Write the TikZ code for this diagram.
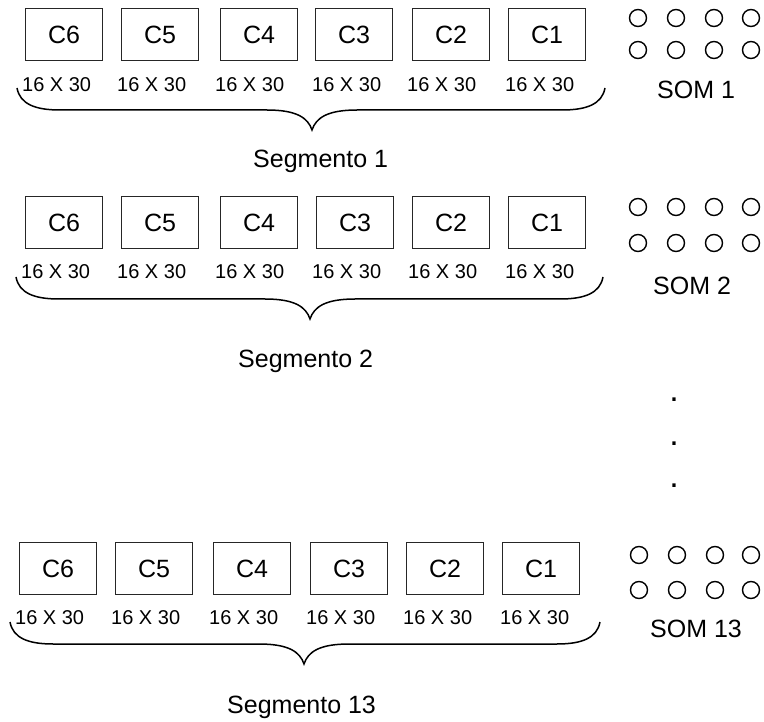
\documentclass[tikz,border=0pt]{standalone}
\usepackage{fontspec}
\setmainfont{Liberation Sans}
\newcommand\SegBrace[4]{% left x, right x, top y, tip x
  \draw[bracestyle] (#1,#3) .. controls (#1+3,#3+16) and (#1+18,#3+22) .. (#1+43,#3+22)
    -- (#4-45,#3+22) .. controls (#4-15,#3+22) and (#4-4,#3+30) .. (#4,#3+42)
    .. controls (#4+4,#3+30) and (#4+15,#3+22) .. (#4+45,#3+22)
    -- (#2-43,#3+22) .. controls (#2-18,#3+22) and (#2-3,#3+16) .. (#2,#3);}
\begin{document}
\begin{tikzpicture}[x=1pt,y=-1pt,
  cbox/.style={draw=black!85,line width=1.2pt,minimum width=77pt,minimum height=52pt,
    inner sep=0pt,font=\fontsize{25}{30}\selectfont,anchor=north west},
  dimlab/.style={font=\fontsize{20}{24}\selectfont,inner sep=0pt,anchor=base west},
  biglab/.style={font=\fontsize{25}{30}\selectfont,inner sep=0pt,anchor=base west},
  somunit/.style={draw,circle,line width=1.4pt,minimum size=17pt,inner sep=0pt},
  bracestyle/.style={line width=1.5pt},
  dotlab/.style={font=\fontsize{34}{40}\selectfont,inner sep=0pt,anchor=base}]
\useasboundingbox (0,0) rectangle (764,722);

% ---------- Row 1 ----------
\foreach \c/\x/\lx in {6/25/22,5/121/117,4/220/215,3/315/312,2/412/407,1/508/505}{
  \node[cbox] (aC\c) at (\x,8) {C\c};
  \node[dimlab] (aL\c) at (\lx,92) {16 X 30};
}
\SegBrace{17}{605}{88}{312}
\node[biglab] (seg1) at (253,168) {Segmento 1};
\foreach \i/\x in {1/638,2/676,3/714,4/751}{
  \node[somunit] (aS\i) at (\x,18) {};
  \node[somunit] (aT\i) at (\x,50) {};
}
\node[biglab] (som1) at (657,99) {SOM 1};

% ---------- Row 2 ----------
\foreach \c/\x/\lx in {6/25/21,5/121/117,4/220/215,3/316/312,2/412/408,1/508/505}{
  \node[cbox] (bC\c) at (\x,196) {C\c};
  \node[dimlab] (bL\c) at (\lx,279) {16 X 30};
}
\SegBrace{16}{603}{277}{310}
\node[biglab] (seg2) at (238,367) {Segmento 2};
\foreach \i/\x in {1/638,2/676,3/714,4/751}{
  \node[somunit] (bS\i) at (\x,207) {};
  \node[somunit] (bT\i) at (\x,243) {};
}
\node[biglab] (som2) at (653,295) {SOM 2};

% ---------- dots ----------
\node[dotlab] (d1) at (674,402) {.};
\node[dotlab] (d2) at (674,445) {.};
\node[dotlab] (d3) at (674,487) {.};

% ---------- Row 3 ----------
\foreach \c/\x/\lx in {6/19/15,5/115/111,4/213/209,3/310/306,2/406/403,1/502/500}{
  \node[cbox] (cC\c) at (\x,542) {C\c};
  \node[dimlab] (cL\c) at (\lx,624) {16 X 30};
}
\SegBrace{10}{600}{622}{304}
\node[biglab] (seg3) at (227,713) {Segmento 13};
\foreach \i/\x in {1/639,2/677,3/715,4/751}{
  \node[somunit] (cS\i) at (\x,555) {};
  \node[somunit] (cT\i) at (\x,590) {};
}
\node[biglab] (som3) at (650,637) {SOM 13};
\end{tikzpicture}
\end{document}
